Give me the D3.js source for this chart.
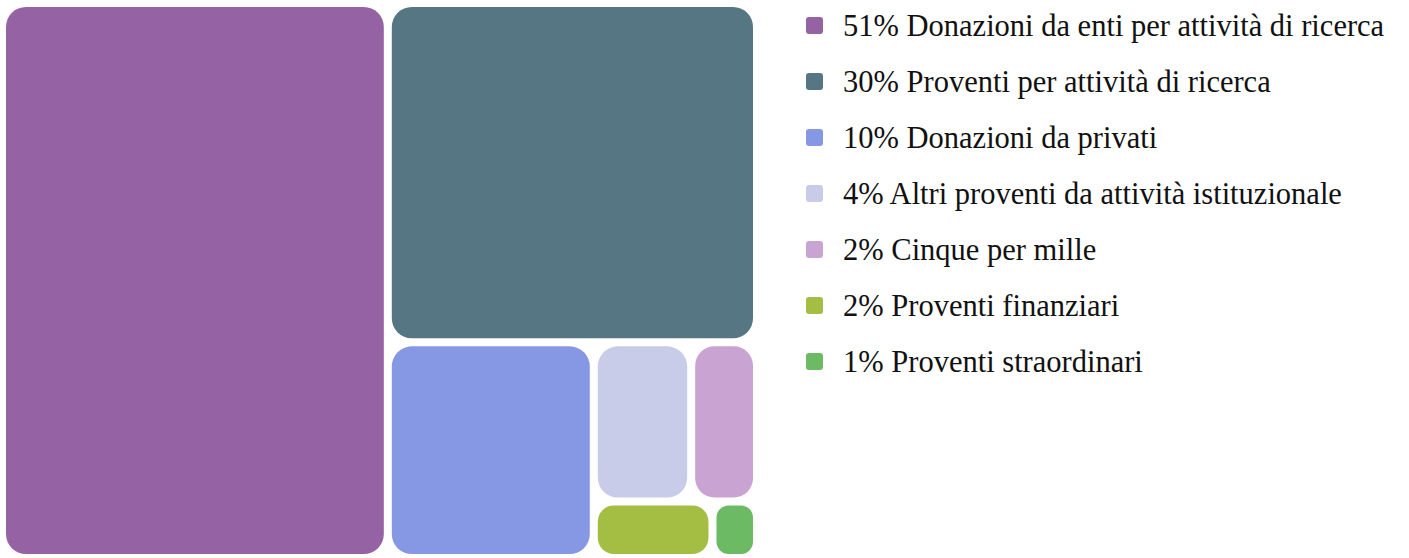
<!DOCTYPE html>
<html>
<head>
  <meta charset="utf-8" />
  <title>Proventi - treemap</title>
  <script src="https://d3js.org/d3.v7.min.js"></script>
  <style>
    body { margin: 0; background: #fff; }
    svg { display: block; }
    .legend text { font-family: "Liberation Serif", "DejaVu Serif", serif; fill: #111; }
  </style>
</head>
<body>
  <svg id="chart" width="1409" height="558"></svg>
  <script>
    // categories, shown percentages and the tile areas
    var categories = [
      "Donazioni da enti per attività di ricerca",
      "Proventi per attività di ricerca",
      "Donazioni da privati",
      "Altri proventi da attività istituzionale",
      "Cinque per mille",
      "Proventi finanziari",
      "Proventi straordinari"
    ];
    var pctLabels = ["51%", "30%", "10%", "4%", "2%", "2%", "1%"];
    var tileValues = [51.1, 29.9, 10.6, 3.7, 2.5, 1.6, 0.6];
    var colors = ["#9562a3", "#557682", "#8698e4", "#c8cce8", "#c9a4d3", "#a4bd43", "#6dba65"];

    var svg = d3.select("#chart");

    function leaf(i) { return { idx: i, value: tileValues[i] }; }

    // nesting follows the cuts seen in the reference
    var tree = {
      children: [
        leaf(0),
        { children: [
          leaf(1),
          { children: [
            leaf(2),
            { children: [
              { children: [leaf(3), leaf(4)] },
              { children: [leaf(5), leaf(6)] }
            ] }
          ] }
        ] }
      ]
    };

    var root = d3.hierarchy(tree).sum(function (d) { return d.value || 0; });

    d3.treemap()
      .size([747, 547])
      .tile(d3.treemapSliceDice)
      .paddingInner(8)(root);

    var g = svg.append("g").attr("transform", "translate(6,7)");

    g.selectAll("rect")
      .data(root.leaves())
      .enter().append("rect")
      .attr("x", function (d) { return d.x0; })
      .attr("y", function (d) { return d.y0; })
      .attr("width", function (d) { return d.x1 - d.x0; })
      .attr("height", function (d) { return d.y1 - d.y0; })
      .attr("rx", function (d) { return Math.min(20, (d.x1 - d.x0) / 3, (d.y1 - d.y0) / 3); })
      .attr("fill", function (d) { return colors[d.data.idx]; });

    // legend
    var legend = svg.append("g").attr("class", "legend").attr("transform", "translate(806,17)");
    var rowH = 56;

    var item = legend.selectAll("g")
      .data(categories)
      .enter().append("g")
      .attr("transform", function (d, i) { return "translate(0," + i * rowH + ")"; });

    item.append("rect")
      .attr("width", 17)
      .attr("height", 17)
      .attr("rx", 3)
      .attr("fill", function (d, i) { return colors[i]; });

    item.append("text")
      .attr("x", 37)
      .attr("y", 19)
      .style("font-size", "30.5px")
      .text(function (d, i) { return pctLabels[i] + " " + d; });
  </script>
</body>
</html>
